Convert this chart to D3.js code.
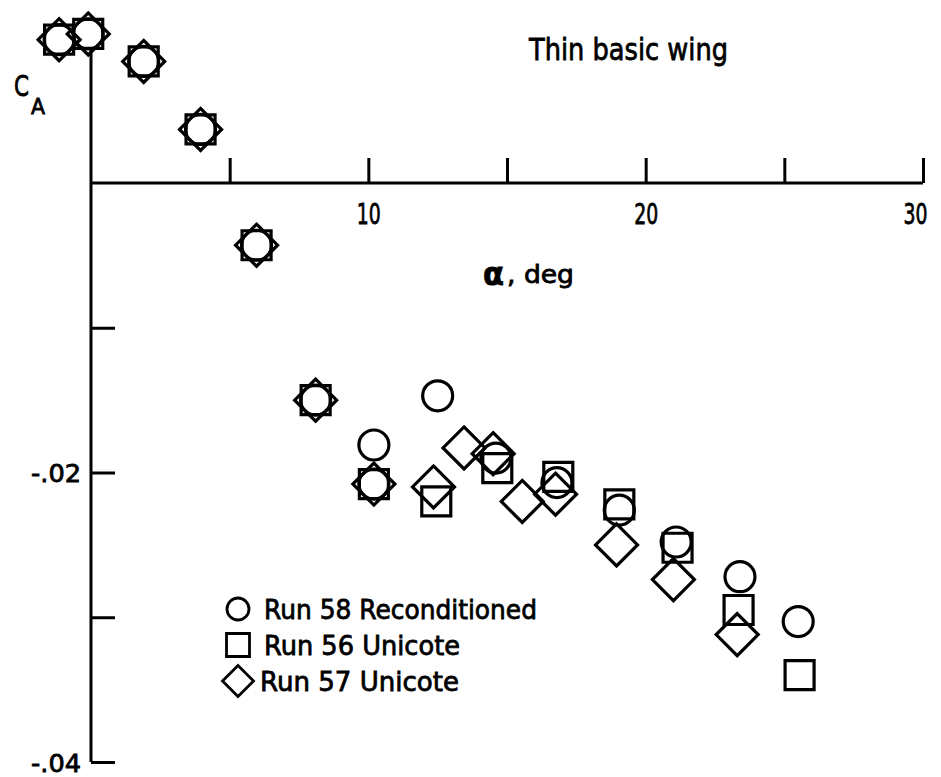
<!DOCTYPE html>
<html>
<head>
<meta charset="utf-8">
<script src="https://cdn.jsdelivr.net/npm/d3@7"></script>
<style>
  html, body { margin: 0; background: #fff; overflow: hidden; }
  svg { display: block; }
  text { font-family: "DejaVu Sans", sans-serif; fill: #000; stroke: #000; stroke-width: 0.8px; }
</style>
</head>
<body>
<script>
var width = 941,
    height = 777;

// angle of attack, deg / axial force coefficient
var run58Alpha = [-1.15, -0.1, 1.9, 3.95, 5.97, 8.1, 10.2, 10.2, 12.5, 14.6, 16.8, 19.05, 21.1, 23.4, 25.5];
var run58CA    = [0.0099, 0.0103, 0.0084, 0.0037, -0.0043, -0.0150, -0.0181, -0.0208, -0.0147, -0.0190, -0.0207, -0.0226, -0.0248, -0.0272, -0.0303];

var run56Alpha = [-1.15, -0.1, 1.9, 3.95, 5.97, 8.1, 10.2, 12.45, 14.65, 16.85, 19.05, 21.15, 23.35, 25.55];
var run56CA    = [0.0099, 0.0103, 0.0084, 0.0037, -0.0043, -0.0150, -0.0208, -0.0220, -0.0197, -0.0203, -0.0222, -0.0252, -0.0295, -0.0340];

var run57Alpha = [-1.15, -0.1, 1.9, 3.95, 5.97, 8.1, 10.2, 12.35, 13.45, 14.5, 15.55, 16.75, 18.95, 21.0, 23.3];
var run57CA    = [0.0099, 0.0103, 0.0084, 0.0037, -0.0043, -0.0150, -0.0208, -0.0210, -0.0183, -0.0187, -0.0220, -0.0215, -0.0250, -0.0274, -0.0312];

var xTicks = [5, 10, 15, 20, 25, 30],
    xLabels = [10, 20, 30];
var yTicks = [-0.01, -0.02, -0.03, -0.04],
    yLabels = [-0.02, -0.04];

var legendNames = ["Run 58 Reconditioned", "Run 56 Unicote", "Run 57 Unicote"];
var legendShapes = ["circle", "square", "diamond"];
var legendWidths = [273, 196, 199]; // squeeze to the narrow lettering of the original

var x = d3.scaleLinear().domain([0, 30]).range([91, 923]);
var y = d3.scaleLinear().domain([0, -0.04]).range([183, 762]);

var svg = d3.select("body").append("svg")
    .attr("width", width)
    .attr("height", height);

function zip(a, b) {
    return a.map(function(d, i) { return {a: d, c: b[i]}; });
}

// shape paths centred on 0,0
function shapePath(kind, s) {
    if (kind === "circle") {
        return "M" + s + ",0A" + s + "," + s + " 0 1,1 " + (-s) + ",0A" + s + "," + s + " 0 1,1 " + s + ",0Z";
    }
    if (kind === "square") {
        return "M" + (-s) + "," + (-s) + "H" + s + "V" + s + "H" + (-s) + "Z";
    }
    return "M0," + (-s) + "L" + s + ",0L0," + s + "L" + (-s) + ",0Z";
}

// axes
var xAxis = d3.axisBottom(x)
    .tickValues(xTicks)
    .tickSizeInner(-25)
    .tickSizeOuter(0)
    .tickFormat(function(d) { return xLabels.indexOf(d) >= 0 ? d : ""; });

var gx = svg.append("g")
    .attr("transform", "translate(0," + y(0) + ")")
    .call(xAxis);
gx.select(".domain").attr("d", "M" + x(0) + ",0H" + x(30));
gx.selectAll("line, .domain").attr("stroke", "#000").attr("stroke-width", 3);
gx.selectAll("text")
    .attr("font-size", 28).attr("dy", 0).attr("y", 41)
    .attr("font-family", "DejaVu Sans")
    .filter(function(d) { return xLabels.indexOf(d) >= 0; })
    .attr("x", function(d) { return d === 30 ? -8 : 0; })
    .attr("textLength", 24).attr("lengthAdjust", "spacingAndGlyphs");

var yAxis = d3.axisLeft(y)
    .tickValues(yTicks)
    .tickSizeInner(-24)
    .tickSizeOuter(0)
    .tickPadding(10)
    .tickFormat(function(d) {
        return yLabels.indexOf(d) >= 0 ? "-" + d3.format(".2f")(-d).slice(1) : "";
    });

var gy = svg.append("g")
    .attr("transform", "translate(" + x(0) + ",0)")
    .call(yAxis);
gy.select(".domain").attr("d", "M0," + y(0.0092) + "V" + y(-0.04));
gy.selectAll("line, .domain").attr("stroke", "#000").attr("stroke-width", 3);
gy.selectAll("text")
    .attr("font-size", 25).attr("dy", "0.36em")
    .attr("font-family", "DejaVu Sans")
    .filter(function(d) { return yLabels.indexOf(d) >= 0; })
    .attr("textLength", 50).attr("lengthAdjust", "spacingAndGlyphs");

// axis titles
svg.append("text")
    .attr("x", 14).attr("y", 96)
    .attr("font-size", 29)
    .attr("textLength", 15).attr("lengthAdjust", "spacingAndGlyphs")
    .text("C");
svg.append("text")
    .attr("x", 31).attr("y", 114)
    .attr("font-size", 22)
    .attr("textLength", 14).attr("lengthAdjust", "spacingAndGlyphs")
    .text("A");

svg.append("text")
    .attr("x", 483).attr("y", 285)
    .attr("font-size", 31)
    .attr("font-weight", "bold")
    .attr("textLength", 21).attr("lengthAdjust", "spacingAndGlyphs")
    .text("α");
svg.append("text")
    .attr("x", 507).attr("y", 283)
    .attr("font-size", 25)
    .attr("textLength", 67).attr("lengthAdjust", "spacingAndGlyphs")
    .text(",  deg");

svg.append("text")
    .attr("x", 529).attr("y", 60)
    .attr("font-size", 31)
    .attr("textLength", 199).attr("lengthAdjust", "spacingAndGlyphs")
    .text("Thin basic wing");

// data
var marks = svg.append("g")
    .attr("fill", "none")
    .attr("stroke", "#000")
    .attr("stroke-width", 3.2);

marks.selectAll(".run58")
    .data(zip(run58Alpha, run58CA))
  .enter().append("path")
    .attr("class", "run58")
    .attr("transform", function(d) { return "translate(" + x(d.a) + "," + y(d.c) + ")"; })
    .attr("d", shapePath("circle", 15));

marks.selectAll(".run56")
    .data(zip(run56Alpha, run56CA))
  .enter().append("path")
    .attr("class", "run56")
    .attr("transform", function(d) { return "translate(" + x(d.a) + "," + y(d.c) + ")"; })
    .attr("d", shapePath("square", 14.5));

marks.selectAll(".run57")
    .data(zip(run57Alpha, run57CA))
  .enter().append("path")
    .attr("class", "run57")
    .attr("transform", function(d) { return "translate(" + x(d.a) + "," + y(d.c) + ")"; })
    .attr("d", shapePath("diamond", 21));

// legend
var legend = svg.append("g")
    .attr("transform", "translate(238,609)");

var rows = legend.selectAll("g")
    .data(legendNames)
  .enter().append("g")
    .attr("transform", function(d, i) { return "translate(0," + (i * 36) + ")"; });

rows.append("path")
    .attr("d", function(d, i) {
        var s = legendShapes[i];
        return shapePath(s, s === "circle" ? 11 : s === "square" ? 11.5 : 15.5);
    })
    .attr("fill", "none")
    .attr("stroke", "#000")
    .attr("stroke-width", 2.8);

rows.append("text")
    .attr("x", function(d, i) { return i === 2 ? 22 : 26; })
    .attr("y", 10)
    .attr("font-size", 27)
    .attr("textLength", function(d, i) { return legendWidths[i]; })
    .attr("lengthAdjust", "spacingAndGlyphs")
    .text(function(d) { return d; });
</script>
</body>
</html>
